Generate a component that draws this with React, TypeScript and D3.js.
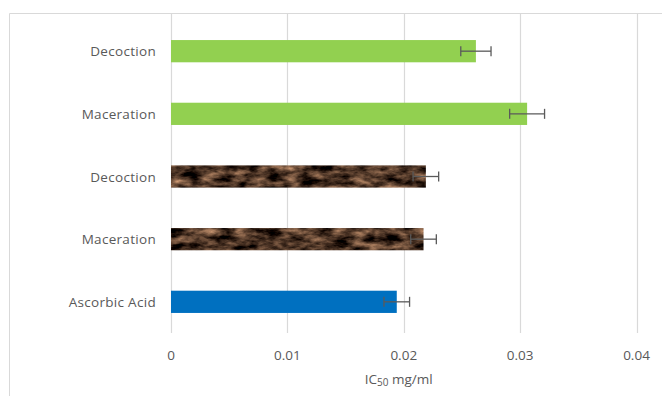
import React from "react";
import * as d3 from "d3";

const categories = ["Decoction", "Maceration", "Decoction", "Maceration", "Ascorbic Acid"];
const values = [0.0262, 0.0306, 0.0219, 0.0217, 0.0194];
const errors = [0.0013, 0.0015, 0.0011, 0.0011, 0.0011];
const kinds = ["green", "green", "bark", "bark", "blue"];
const xTicks = [0, 0.01, 0.02, 0.03, 0.04];

const W = 662;
const H = 396;
const X0 = 171;
const X1 = 636.5;
const TOP = 20;
const BOTTOM = 333;

export default function App() {
  const x = d3.scaleLinear().domain([0, 0.04]).range([X0, X1]);
  const y = d3
    .scaleBand<number>()
    .domain(d3.range(categories.length))
    .range([TOP, TOP + 5 * 62.6])
    .paddingInner(0.645)
    .paddingOuter(0.32);

  const fillFor = (k: string) =>
    k === "green" ? "#92d050" : k === "blue" ? "#0070c0" : "#4b3322";

  const font = "'Open Sans', sans-serif";
  const fs = 13.5;

  return (
    <svg
      width={W}
      height={H}
      style={{ position: "absolute", left: 0, top: 0, background: "#fff" }}
    >
      <defs>
        <filter
          id="bark"
          x="0"
          y="0"
          width="100%"
          height="100%"
          colorInterpolationFilters="sRGB"
        >
          <feTurbulence type="fractalNoise" baseFrequency="0.06 0.14" numOctaves="4" seed="5" result="n" />
          <feColorMatrix
            in="n"
            type="matrix"
            values="1.15 0 0 0 -0.27
                    0.9 0 0 0 -0.24
                    0.7 0 0 0 -0.2
                    0 0 0 0 1"
            result="c"
          />
          <feComposite in="c" in2="SourceGraphic" operator="in" />
        </filter>
      </defs>

      {/* outer frame */}
      <line x1={9.5} x2={W} y1={13.5} y2={13.5} stroke="#d9d9d9" />
      <line x1={9.5} x2={9.5} y1={13.5} y2={H} stroke="#d9d9d9" />

      {/* vertical gridlines */}
      {xTicks.map((t) => (
        <line
          key={t}
          x1={Math.round(x(t)) + 0.5}
          x2={Math.round(x(t)) + 0.5}
          y1={14}
          y2={BOTTOM}
          stroke="#d9d9d9"
          strokeWidth={1.2}
        />
      ))}

      {/* bars */}
      {values.map((v, i) => (
        <rect
          key={i}
          x={x(0)}
          y={y(i)}
          width={x(v) - x(0)}
          height={y.bandwidth()}
          fill={fillFor(kinds[i])}
          filter={kinds[i] === "bark" ? "url(#bark)" : undefined}
        />
      ))}

      {/* error bars */}
      {values.map((v, i) => {
        const cy = (y(i) as number) + y.bandwidth() / 2;
        const a = x(v - errors[i]);
        const b = x(v + errors[i]);
        return (
          <g key={i} stroke="#5a5a5a" strokeWidth={1.3}>
            <line x1={a} x2={b} y1={cy} y2={cy} />
            <line x1={a} x2={a} y1={cy - 5} y2={cy + 5} />
            <line x1={b} x2={b} y1={cy - 5} y2={cy + 5} />
          </g>
        );
      })}

      {/* category labels */}
      {categories.map((c, i) => (
        <text
          key={i}
          x={156}
          y={(y(i) as number) + y.bandwidth() / 2}
          textAnchor="end"
          dominantBaseline="central"
          fontFamily={font}
          fontSize={fs}
          letterSpacing={0.3}
          fill="#595959"
        >
          {c}
        </text>
      ))}

      {/* tick labels */}
      {xTicks.map((t) => (
        <text
          key={t}
          x={x(t)}
          y={360}
          textAnchor="middle"
          fontFamily={font}
          fontSize={fs}
          fill="#595959"
        >
          {t === 0 ? "0" : d3.format(".2f")(t)}
        </text>
      ))}

      {/* axis title */}
      <text
        x={x(0.02) - 5}
        y={384}
        textAnchor="middle"
        fontFamily={font}
        fontSize={fs}
        fill="#595959"
      >
        IC
        <tspan fontSize={10} dy={2}>50</tspan>
        <tspan dy={-2}> mg/ml</tspan>
      </text>
    </svg>
  );
}
